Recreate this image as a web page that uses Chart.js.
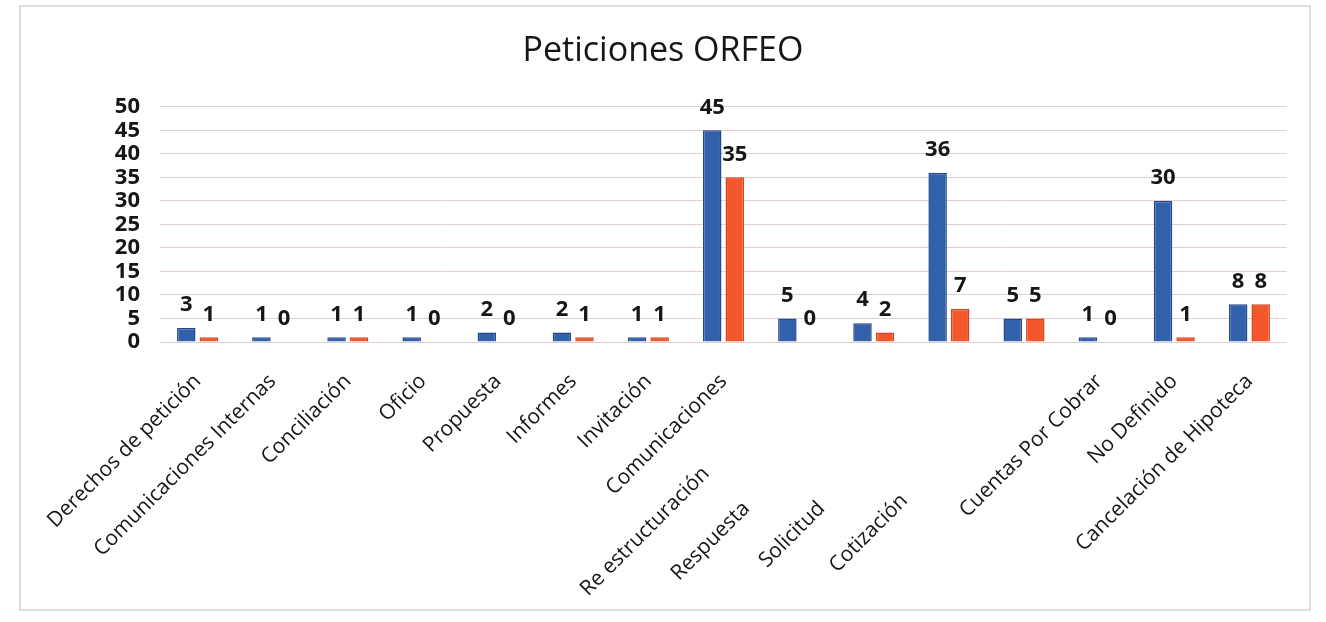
<!DOCTYPE html>
<html>
<head>
<meta charset="utf-8">
<title>Peticiones ORFEO</title>
<script src="https://cdn.jsdelivr.net/npm/chart.js@4.4.1/dist/chart.umd.min.js"></script>
<style>
  html, body { margin: 0; padding: 0; background: #fff; }
  #grafica-wrap { width: 1326px; height: 622px; }
</style>
</head>
<body>
<div id="grafica-wrap"><canvas id="grafica"></canvas></div>
<script>
var categorias = ['Derechos de petición', 'Comunicaciones Internas', 'Conciliación', 'Oficio', 'Propuesta',
  'Informes', 'Invitación', 'Comunicaciones', 'Re estructuración', 'Respuesta', 'Solicitud',
  'Cotización', 'Cuentas Por Cobrar', 'No Definido', 'Cancelación de Hipoteca'];
var serieAzul = [3, 1, 1, 1, 2, 2, 1, 45, 5, 4, 36, 5, 1, 30, 8];
var serieNaranja = [1, 0, 1, 0, 0, 1, 1, 35, 0, 2, 7, 5, 0, 1, 8];
var ticksY = [0, 5, 10, 15, 20, 25, 30, 35, 40, 45, 50];

// espacios al final de algunas etiquetas (asi salen corridas en el original)
var espacios = [0, 0, 0, 0, 0, 0, 0, 0, 24, 33, 33, 31, 0, 0, 0];

var fuente = "'Open Sans', sans-serif";

/**
* Fondo blanco y marco gris claro del grafico.
**/
var marco = {
  id: 'marco',
  beforeDraw(chart){
    var ctx = chart.ctx;
    ctx.save();
    ctx.fillStyle = '#ffffff';
    ctx.fillRect(0, 0, chart.width, chart.height);
    ctx.strokeStyle = '#d9d4d4';
    ctx.lineWidth = 1.5;
    ctx.strokeRect(20, 6, 1290, 604);
    ctx.restore();
  }
};

/**
* Valores encima de cada barra.
**/
var etiquetas = {
  id: 'etiquetas',
  afterDatasetsDraw(chart){
    var ctx = chart.ctx;
    ctx.save();
    ctx.font = 'bold 22px ' + fuente;
    ctx.fillStyle = '#161616';
    ctx.textAlign = 'center';
    ctx.textBaseline = 'bottom';
    chart.data.datasets.forEach((ds, i) => {
      chart.getDatasetMeta(i).data.forEach((barra, j) => {
        ctx.fillText(ds.data[j], barra.x, barra.y - 12);
      });
    });
    ctx.restore();
  }
};

new Chart(document.getElementById('grafica'), {
  type: 'bar',
  data: {
    labels: categorias,
    datasets: [{
      label: 'Serie 1',
      data: serieAzul,
      backgroundColor: '#3261ab',
      borderColor: '#24498a',
      borderWidth: 1.5
    }, {
      label: 'Serie 2',
      data: serieNaranja,
      backgroundColor: '#f3572c',
      borderColor: '#d8431e',
      borderWidth: 1.5
    }]
  },
  options: {
    responsive: true,
    maintainAspectRatio: false,
    animation: false,
    layout: { padding: { left: 39, right: 39, top: 0, bottom: 0 } },
    datasets: { bar: { categoryPercentage: 0.6, barPercentage: 0.82 } },
    plugins: {
      legend: { display: false },
      tooltip: { enabled: false },
      title: {
        display: true,
        text: 'Peticiones ORFEO',
        color: '#161616',
        font: { family: fuente, size: 34, weight: 'normal' },
        padding: { top: 31, bottom: 35 }
      }
    },
    scales: {
      x: {
        grid: { display: false },
        border: { display: false },
        afterFit(scale){ scale.height = 280; },
        ticks: {
          autoSkip: false,
          minRotation: 45,
          maxRotation: 45,
          padding: 19,
          color: '#161616',
          font: { family: fuente, size: 21 },
          callback: (v, i) => categorias[i] + ' '.repeat(espacios[i])
        }
      },
      y: {
        min: 0,
        max: 50,
        afterFit(scale){ scale.width = 121; },
        afterBuildTicks(scale){ scale.ticks = ticksY.map(v => ({ value: v })); },
        border: { display: false },
        grid: { color: '#e0cfcf', lineWidth: 1, drawTicks: false },
        ticks: {
          autoSkip: false,
          stepSize: 5,
          padding: 20,
          color: '#161616',
          font: { family: fuente, size: 22, weight: 'bold' }
        }
      }
    }
  },
  plugins: [marco, etiquetas]
});
</script>
</body>
</html>
